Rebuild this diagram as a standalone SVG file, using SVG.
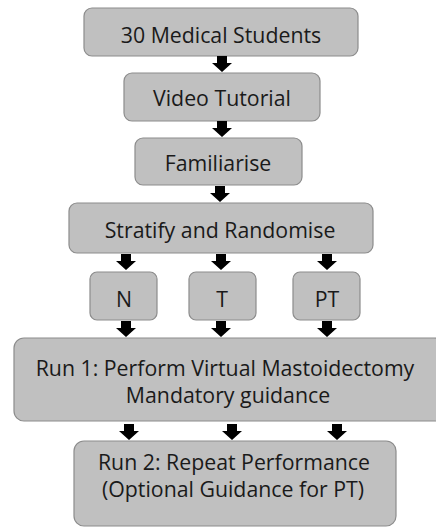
<svg xmlns="http://www.w3.org/2000/svg" width="436" height="529" viewBox="0 0 436 529">
<style>
.box{fill:#c0c0c0;stroke:#8c8c8c;stroke-width:1.2}
.t{font-family:"Open Sans","Noto Sans",sans-serif;font-size:21.3px;fill:#1a1a1a;text-anchor:middle}
.arr{fill:#000}
</style>
<defs>
<path id="a" d="M-5,0 H5 V7 H10 L0,16 L-10,7 H-5 Z"/>
</defs>
<rect x="0" y="0" width="436" height="529" fill="#fff"/>
<g id="n1"><rect class="box" x="84" y="8" width="274" height="48" rx="8"/><text class="t" x="221" y="43">30 Medical Students</text></g>
<g id="n2"><rect class="box" x="124" y="73" width="196" height="48" rx="8"/><text class="t" x="222" y="106">Video Tutorial</text></g>
<g id="n3"><rect class="box" x="135" y="138" width="167" height="47" rx="8"/><text class="t" x="218" y="171">Familiarise</text></g>
<g id="n4"><rect class="box" x="69" y="203" width="304" height="50" rx="8"/><text class="t" x="220" y="238">Stratify and Randomise</text></g>
<g id="n5"><rect class="box" x="90" y="272" width="67" height="48" rx="7"/><text class="t" x="124" y="307">N</text></g>
<g id="n6"><rect class="box" x="189" y="272" width="67" height="48" rx="7"/><text class="t" x="222" y="307">T</text></g>
<g id="n7"><rect class="box" x="293" y="272" width="67" height="48" rx="7"/><text class="t" x="327" y="307">PT</text></g>
<g id="n8"><rect class="box" x="14" y="338" width="430" height="83" rx="10"/><text class="t" x="225" y="376">Run 1: Perform Virtual Mastoidectomy</text><text class="t" x="228" y="403">Mandatory guidance</text></g>
<g id="n9"><rect class="box" x="74" y="441" width="322" height="85" rx="10"/><text class="t" x="234" y="470">Run 2: Repeat Performance</text><text class="t" x="233" y="497">(Optional Guidance for PT)</text></g>
<g id="connectors" class="arr">
<use href="#a" x="222" y="56"/>
<use href="#a" x="222" y="121"/>
<use href="#a" x="220" y="186"/>
<use href="#a" x="126" y="254"/>
<use href="#a" x="221" y="254"/>
<use href="#a" x="327" y="254"/>
<use href="#a" x="126" y="321"/>
<use href="#a" x="221" y="321"/>
<use href="#a" x="327" y="321"/>
<use href="#a" x="129" y="424"/>
<use href="#a" x="232" y="424"/>
<use href="#a" x="337" y="424"/>
</g>
</svg>
